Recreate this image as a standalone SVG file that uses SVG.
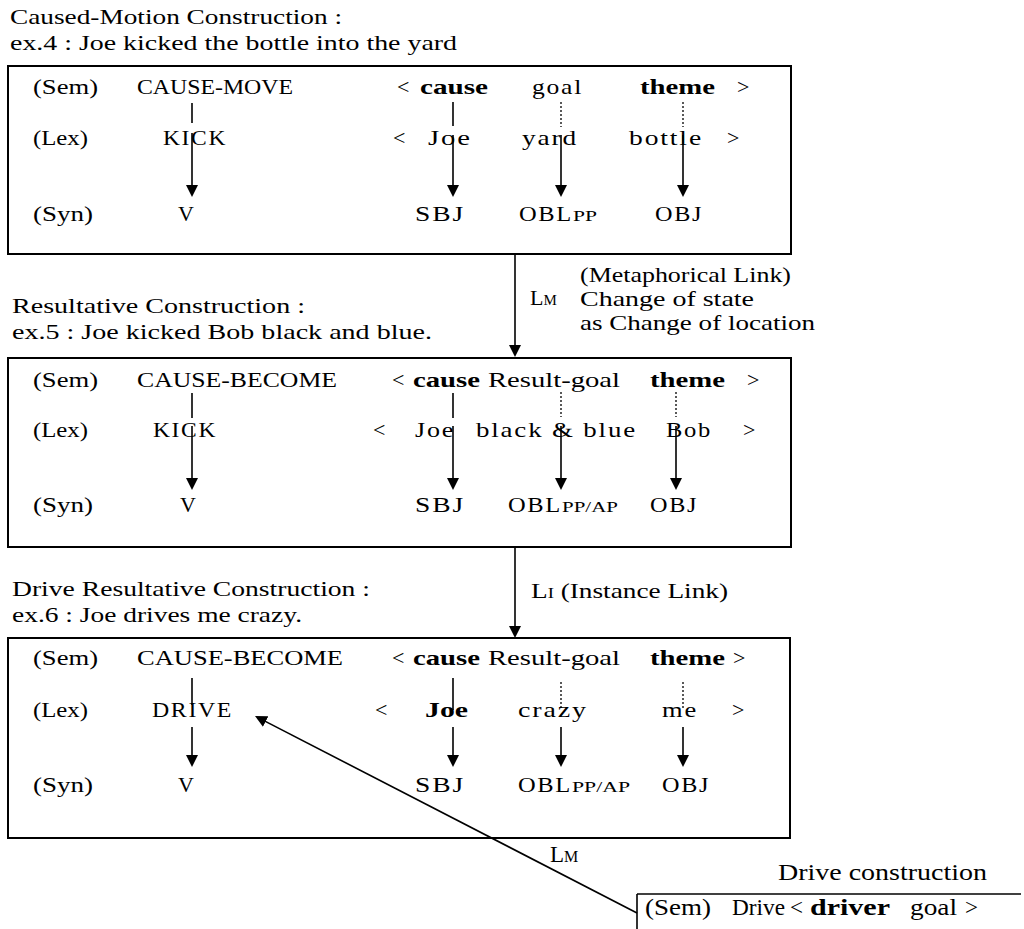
<svg xmlns="http://www.w3.org/2000/svg" width="1024" height="929" viewBox="0 0 1024 929">
<style>
.t{font-family:"Liberation Serif","Times New Roman",serif;font-size:22px;fill:#000}
.b{font-weight:bold}
.sp{letter-spacing:1.5px}
.s{font-size:15px}
.tm{font-family:"Liberation Serif","Times New Roman",serif;font-size:23px;fill:#000}
.box{fill:none;stroke:#000;stroke-width:2}
.ln{stroke:#000;stroke-width:1.6;fill:none}
.dot{stroke:#000;stroke-width:1.3;stroke-dasharray:2 2;fill:none}
.ar{stroke:#000;stroke-width:1.6;fill:none;marker-end:url(#ah)}
</style>
<defs>
<marker id="ah" markerUnits="userSpaceOnUse" markerWidth="14" markerHeight="14" viewBox="0 0 14 14" refX="2" refY="6" orient="auto"><path d="M0,0 L12,6 L0,12 z" fill="#000"/></marker>
</defs>

<g id="title1" class="t">
<text x="10" y="24" textLength="332" lengthAdjust="spacingAndGlyphs">Caused-Motion Construction :</text>
<text x="10" y="50" textLength="447" lengthAdjust="spacingAndGlyphs">ex.4 : Joe kicked the bottle into the yard</text>
</g>

<g id="box1" class="t">
<rect class="box" x="8" y="66" width="783" height="188"/>
<text x="33" y="94" textLength="65" lengthAdjust="spacingAndGlyphs">(Sem)</text>
<text x="137" y="94" textLength="156" lengthAdjust="spacingAndGlyphs">CAUSE-MOVE</text>
<text x="397" y="94">&lt;</text>
<text x="420" y="94" class="b" textLength="68" lengthAdjust="spacingAndGlyphs">cause</text>
<text x="532" y="94" class="sp" textLength="51" lengthAdjust="spacingAndGlyphs">goal</text>
<text x="640" y="94" class="b" textLength="75" lengthAdjust="spacingAndGlyphs">theme</text>
<text x="737" y="94">&gt;</text>
<text x="33" y="145" textLength="55" lengthAdjust="spacingAndGlyphs">(Lex)</text>
<text x="163" y="145" class="sp" textLength="64" lengthAdjust="spacingAndGlyphs">KICK</text>
<text x="393" y="145">&lt;</text>
<text x="428" y="145" class="sp" textLength="44" lengthAdjust="spacingAndGlyphs">Joe</text>
<text x="522" y="145" class="sp" textLength="56" lengthAdjust="spacingAndGlyphs">yard</text>
<text x="629" y="145" class="sp" textLength="74" lengthAdjust="spacingAndGlyphs">bottle</text>
<text x="727" y="145">&gt;</text>
<text x="33" y="221" textLength="60" lengthAdjust="spacingAndGlyphs">(Syn)</text>
<text x="178" y="221">V</text>
<text x="415" y="221" class="sp" textLength="50" lengthAdjust="spacingAndGlyphs">SBJ</text>
<text x="519" y="221" class="sp" textLength="54" lengthAdjust="spacingAndGlyphs">OBL</text>
<text x="573" y="221" class="s" textLength="24" lengthAdjust="spacingAndGlyphs">PP</text>
<text x="655" y="221" class="sp" textLength="48" lengthAdjust="spacingAndGlyphs">OBJ</text>
</g>

<g id="title2" class="t">
<text x="12" y="313" textLength="293" lengthAdjust="spacingAndGlyphs">Resultative Construction :</text>
<text x="12" y="339" textLength="420" lengthAdjust="spacingAndGlyphs">ex.5 : Joe kicked Bob black and blue.</text>
</g>

<g id="box2" class="t">
<rect class="box" x="8" y="358" width="783" height="189"/>
<text x="33" y="387" textLength="65" lengthAdjust="spacingAndGlyphs">(Sem)</text>
<text x="137" y="387" textLength="200" lengthAdjust="spacingAndGlyphs">CAUSE-BECOME</text>
<text x="392" y="387">&lt;</text>
<text x="413" y="387" class="b" textLength="67" lengthAdjust="spacingAndGlyphs">cause</text>
<text x="488" y="387" textLength="132" lengthAdjust="spacingAndGlyphs">Result-goal</text>
<text x="650" y="387" class="b" textLength="75" lengthAdjust="spacingAndGlyphs">theme</text>
<text x="747" y="387">&gt;</text>
<text x="33" y="437" textLength="55" lengthAdjust="spacingAndGlyphs">(Lex)</text>
<text x="153" y="437" class="sp" textLength="64" lengthAdjust="spacingAndGlyphs">KICK</text>
<text x="373" y="437">&lt;</text>
<text x="415" y="437" class="sp" textLength="40" lengthAdjust="spacingAndGlyphs">Joe</text>
<text x="476" y="437" class="sp" textLength="161" lengthAdjust="spacingAndGlyphs">black &amp; blue</text>
<text x="666" y="437" class="sp" textLength="46" lengthAdjust="spacingAndGlyphs">Bob</text>
<text x="743" y="437">&gt;</text>
<text x="33" y="512" textLength="60" lengthAdjust="spacingAndGlyphs">(Syn)</text>
<text x="180" y="512">V</text>
<text x="415" y="512" class="sp" textLength="50" lengthAdjust="spacingAndGlyphs">SBJ</text>
<text x="508" y="512" class="sp" textLength="54" lengthAdjust="spacingAndGlyphs">OBL</text>
<text x="562" y="512" class="s" textLength="56" lengthAdjust="spacingAndGlyphs">PP/AP</text>
<text x="650" y="512" class="sp" textLength="48" lengthAdjust="spacingAndGlyphs">OBJ</text>
</g>

<g id="title3" class="t">
<text x="12" y="596" textLength="358" lengthAdjust="spacingAndGlyphs">Drive Resultative Construction :</text>
<text x="12" y="622" textLength="290" lengthAdjust="spacingAndGlyphs">ex.6 : Joe drives me crazy.</text>
</g>

<g id="box3" class="t">
<rect class="box" x="8" y="638" width="782" height="200"/>
<text x="33" y="665" textLength="65" lengthAdjust="spacingAndGlyphs">(Sem)</text>
<text x="137" y="665" textLength="206" lengthAdjust="spacingAndGlyphs">CAUSE-BECOME</text>
<text x="392" y="665">&lt;</text>
<text x="413" y="665" class="b" textLength="67" lengthAdjust="spacingAndGlyphs">cause</text>
<text x="488" y="665" textLength="132" lengthAdjust="spacingAndGlyphs">Result-goal</text>
<text x="650" y="665" class="b" textLength="75" lengthAdjust="spacingAndGlyphs">theme</text>
<text x="733" y="665">&gt;</text>
<text x="33" y="717" textLength="55" lengthAdjust="spacingAndGlyphs">(Lex)</text>
<text x="152" y="717" class="sp" textLength="81" lengthAdjust="spacingAndGlyphs">DRIVE</text>
<text x="375" y="717">&lt;</text>
<text x="425" y="717" class="b" textLength="43" lengthAdjust="spacingAndGlyphs">Joe</text>
<text x="518" y="717" class="sp" textLength="70" lengthAdjust="spacingAndGlyphs">crazy</text>
<text x="662" y="717" class="sp" textLength="36" lengthAdjust="spacingAndGlyphs">me</text>
<text x="732" y="717">&gt;</text>
<text x="33" y="792" textLength="60" lengthAdjust="spacingAndGlyphs">(Syn)</text>
<text x="178" y="792">V</text>
<text x="415" y="792" class="sp" textLength="50" lengthAdjust="spacingAndGlyphs">SBJ</text>
<text x="518" y="792" class="sp" textLength="54" lengthAdjust="spacingAndGlyphs">OBL</text>
<text x="572" y="792" class="s" textLength="58" lengthAdjust="spacingAndGlyphs">PP/AP</text>
<text x="662" y="792" class="sp" textLength="48" lengthAdjust="spacingAndGlyphs">OBJ</text>
</g>

<g id="drive" class="tm">
<text x="778" y="880" textLength="209" lengthAdjust="spacingAndGlyphs">Drive construction</text>
<line class="ln" x1="637" y1="894" x2="1021" y2="894"/>
<line class="ln" x1="637" y1="894" x2="637" y2="929"/>
<text x="645" y="915" textLength="66" lengthAdjust="spacingAndGlyphs">(Sem)</text>
<text x="732" y="915" textLength="53" lengthAdjust="spacingAndGlyphs">Drive</text>
<text x="790" y="915">&lt;</text>
<text x="810" y="915" class="b" textLength="80" lengthAdjust="spacingAndGlyphs">driver</text>
<text x="910" y="915" textLength="47" lengthAdjust="spacingAndGlyphs">goal</text>
<text x="965" y="915">&gt;</text>
</g>

<g id="connectors">
<line class="ln" x1="192" y1="103" x2="192" y2="123"/>
<line class="ar" x1="192" y1="133" x2="192" y2="187"/>
<line class="ln" x1="453" y1="102" x2="453" y2="126"/>
<line class="ar" x1="453" y1="135" x2="453" y2="187"/>
<line class="dot" x1="561" y1="102" x2="561" y2="127"/>
<line class="ar" x1="561" y1="135" x2="561" y2="187"/>
<line class="dot" x1="683" y1="102" x2="683" y2="127"/>
<line class="ar" x1="683" y1="135" x2="683" y2="187"/>
<line class="ln" x1="192" y1="393" x2="192" y2="418"/>
<line class="ar" x1="192" y1="426" x2="192" y2="480"/>
<line class="ln" x1="453" y1="393" x2="453" y2="418"/>
<line class="ar" x1="453" y1="426" x2="453" y2="480"/>
<line class="dot" x1="561" y1="392" x2="561" y2="417"/>
<line class="ar" x1="561" y1="426" x2="561" y2="480"/>
<line class="dot" x1="676" y1="392" x2="676" y2="417"/>
<line class="ar" x1="676" y1="426" x2="676" y2="480"/>
<line class="ln" x1="192" y1="678" x2="192" y2="705"/>
<line class="ar" x1="192" y1="727" x2="192" y2="757"/>
<line class="ln" x1="453" y1="678" x2="453" y2="710"/>
<line class="ar" x1="453" y1="727" x2="453" y2="757"/>
<line class="dot" x1="561" y1="682" x2="561" y2="708"/>
<line class="ar" x1="561" y1="727" x2="561" y2="757"/>
<line class="dot" x1="683" y1="682" x2="683" y2="708"/>
<line class="ar" x1="683" y1="727" x2="683" y2="757"/>
<line class="ar" x1="515" y1="254" x2="515" y2="347"/>
<line class="ar" x1="515" y1="547" x2="515" y2="628"/>
<line class="ar" x1="637" y1="913" x2="263.9" y2="720.6"/>
</g>

<g id="labels" class="t">
<text x="530" y="305">L<tspan font-size="15">M</tspan></text>
<text x="580" y="282" textLength="211" lengthAdjust="spacingAndGlyphs">(Metaphorical Link)</text>
<text x="580" y="306" textLength="174" lengthAdjust="spacingAndGlyphs">Change of state</text>
<text x="580" y="330" textLength="235" lengthAdjust="spacingAndGlyphs">as Change of location</text>
<text x="531" y="598" textLength="197" lengthAdjust="spacingAndGlyphs">L<tspan font-size="15">I</tspan> (Instance Link)</text>
<text class="tm" x="550" y="862">L<tspan font-size="16">M</tspan></text>
</g>
</svg>
